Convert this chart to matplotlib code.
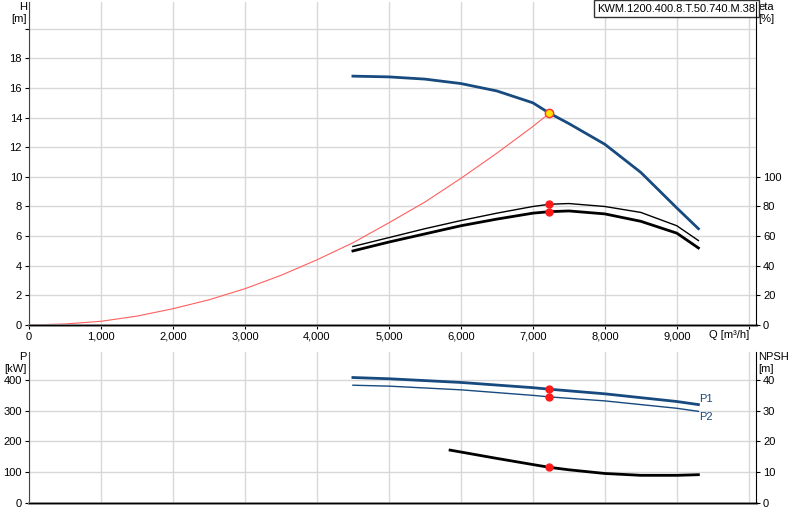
import matplotlib
matplotlib.use("Agg")
import matplotlib.pyplot as plt

plt.rcParams['font.family'] = ['Liberation Sans', 'DejaVu Sans']
plt.rcParams['font.size'] = 8

q_h = [4500, 5000, 5500, 6000, 6500, 7000, 7230, 7500, 8000, 8500, 9000, 9300]
h = [16.8, 16.75, 16.6, 16.3, 15.8, 15.0, 14.3, 13.6, 12.2, 10.3, 7.9, 6.5]
q_sys = [0, 500, 1000, 1500, 2000, 2500, 3000, 3500, 4000, 4500, 5000, 5500, 6000, 6500, 7000, 7230]
h_sys = [0, 0.07, 0.25, 0.6, 1.1, 1.7, 2.45, 3.35, 4.4, 5.55, 6.9, 8.3, 9.9, 11.6, 13.4, 14.3]
q_eta = [4500, 5000, 5500, 6000, 6500, 7000, 7230, 7500, 8000, 8500, 9000, 9300]
eta1 = [53, 59, 65, 70.5, 75.5, 80, 81.5, 82, 80, 76, 67, 57]
eta2 = [50, 56, 61.5, 67, 71.5, 75.5, 76.5, 77, 75, 70, 62, 52]
q_p = [4500, 5000, 6000, 7000, 7230, 8000, 9000, 9300]
p1 = [408, 404, 392, 375, 370, 355, 330, 320]
p2 = [383, 380, 368, 350, 345, 332, 308, 298]
q_npsh = [5850, 6500, 7000, 7230, 7500, 8000, 8500, 9000, 9300]
npsh = [17.2, 14.5, 12.5, 11.6, 10.8, 9.6, 9.0, 9.0, 9.2]
q_op = 7230
xticks = [0, 1000, 2000, 3000, 4000, 5000, 6000, 7000, 8000, 9000]
xlabels = ['0', '1,000', '2,000', '3,000', '4,000', '5,000', '6,000', '7,000', '8,000', '9,000']

blue = '#174a7e'
fig = plt.figure(figsize=(8, 5.2), dpi=100)
ax = fig.add_axes([29/800, 1-325/520, 727/800, 325/520 - 0.004])
ax2 = fig.add_axes([29/800, 1-503/520, 727/800, 151/520])

for a in (ax, ax2):
    a.set_xlim(0, 10100)
    a.set_xticks(xticks + [10000])
    a.grid(True, color='#d8d8d8', lw=1)
    a.tick_params(length=3, pad=2, labelsize=8)
    for s in ('top', 'right'):
        a.spines[s].set_visible(False)
    a.spines['left'].set_color('#444')
    a.spines['bottom'].set_color('#888')
    a.spines['bottom'].set_linewidth(2)
ax.set_xticklabels(xlabels + [''])
ax2.set_xticklabels([])
ax2.tick_params(axis='x', length=0)

ax.set_ylim(0, 21.8)
ax.set_yticks(range(0, 21, 2))
ax.set_yticklabels([str(v) for v in range(0, 19, 2)] + [''])
ax.plot(q_sys, h_sys, color='#ff6060', lw=0.8)
ax.plot(q_h, h, color=blue, lw=2)
ax.plot([v / 10 for v in eta1] and q_eta, [v / 10 for v in eta1], color='black', lw=1)
ax.plot(q_eta, [v / 10 for v in eta2], color='black', lw=2)
ax.plot([q_op], [14.3], 'o', ms=6, mfc='#ffe000', mec='#ff3030')
ax.plot([q_op, q_op], [8.15, 7.65], 'o', ms=5, color='#ff1a1a', ls='none')
axr = ax.twinx()
axr.set_ylim(0, 21.8)
axr.set_yticks(range(0, 11, 2))
axr.set_yticklabels([str(v * 10) for v in range(0, 11, 2)])
axr.tick_params(length=3, pad=2, labelsize=8)
for s in ('top', 'left'):
    axr.spines[s].set_visible(False)
ax.text(-0.003, 1.0, 'H\n[m]', transform=ax.transAxes, ha='right', va='top', fontsize=8)
ax.text(1.003, 1.0, 'eta\n[%]', transform=ax.transAxes, ha='left', va='top', fontsize=8)
ax.text(9450, -0.35, 'Q [m³/h]', ha='left', va='top', fontsize=8)
ax.text(0.999, 0.995, 'KWM.1200.400.8.T.50.740.M.38', transform=ax.transAxes, ha='right', va='top',
        fontsize=8, bbox=dict(boxstyle='square,pad=0.3', fc='white', ec='#333'))

ax2.set_ylim(0, 491)
ax2.set_yticks([0, 100, 200, 300, 400])
ax2.plot(q_p, p1, color=blue, lw=2)
ax2.plot(q_p, p2, color=blue, lw=1)
ax2.plot(q_npsh, [v * 10 for v in npsh], color='black', lw=2)
ax2.plot([q_op] * 3, [370, 345, 116], 'o', ms=5, color='#ff1a1a', ls='none')
ax2.text(9400, 323, 'P1', color=blue, fontsize=8, va='bottom', ha='center')
ax2.text(9400, 296, 'P2', color=blue, fontsize=8, va='top', ha='center')
ax2r = ax2.twinx()
ax2r.set_ylim(0, 49.1)
ax2r.set_yticks([0, 10, 20, 30, 40])
ax2r.tick_params(length=3, pad=2, labelsize=8)
for s in ('top', 'left'):
    ax2r.spines[s].set_visible(False)
ax2.text(-0.003, 1.0, 'P\n[kW]', transform=ax2.transAxes, ha='right', va='top', fontsize=8)
ax2.text(1.003, 1.0, 'NPSH\n[m]', transform=ax2.transAxes, ha='left', va='top', fontsize=8)

fig.savefig('out.png', dpi=100)
